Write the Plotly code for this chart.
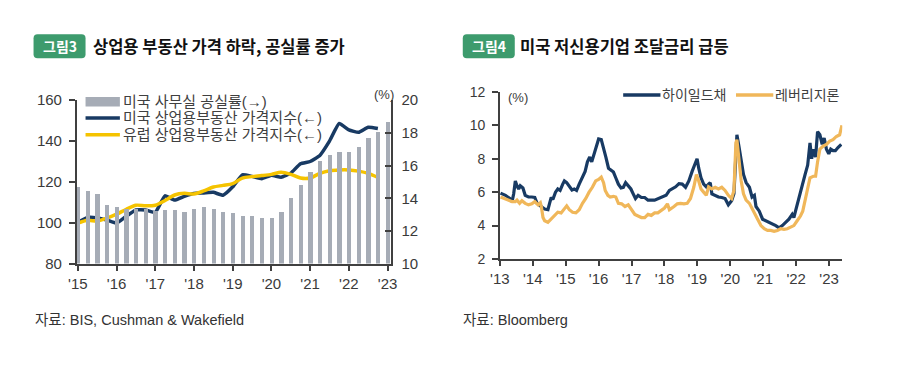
import plotly.graph_objects as go

# ---------------- Left chart data (quarterly) ----------------
q_time = [2015 + 0.25 * i for i in range(33)]
us_vacancy = [14.66, 14.43, 14.23, 13.55, 13.44, 13.3, 13.3, 13.3, 13.2, 13.24, 13.24, 13.15,
              13.34, 13.44, 13.34, 13.17, 13.07, 12.88, 12.88, 12.78, 12.78, 13.17, 13.98, 14.8,
              15.57, 16.27, 16.64, 16.84, 16.84, 17.15, 17.67, 18.06, 18.68]
idx_time = [2015 + 0.25 * i for i in range(32)]
us_cre = [100.2, 102.6, 102.4, 101.3, 99.8, 103.2, 106.3, 106.3, 105.1, 113.2, 111.1, 112.9,
          114.4, 114.6, 114.9, 113.5, 117.6, 123.5, 122.7, 121.6, 123.3, 122.3, 124.3, 128.9,
          130.0, 133.0, 140.0, 148.6, 145.5, 144.3, 146.8, 146.2]
eu_cre = [99.8, 101.2, 100.8, 102.3, 104.2, 106.6, 108.6, 108.3, 108.6, 110.9, 113.6, 114.4,
          114.1, 115.6, 117.5, 118.3, 119.2, 121.9, 122.6, 123.1, 123.7, 124.7, 123.7, 121.9,
          121.9, 124.2, 125.5, 125.9, 125.9, 125.3, 124.2, 122.2]
left_years = list(range(2015, 2024))
left_ticktext = ["'15", "'16", "'17", "'18", "'19", "'20", "'21", "'22", "'23"]

# ---------------- Right chart data ----------------
hy_t = [2013.02, 2013.17, 2013.30, 2013.37, 2013.42, 2013.47, 2013.52, 2013.57, 2013.62, 2013.70,
        2013.77, 2013.87, 2013.97, 2014.06, 2014.13, 2014.21, 2014.29, 2014.36, 2014.46, 2014.51,
        2014.56, 2014.61, 2014.69, 2014.76, 2014.83, 2014.91, 2014.96, 2015.03, 2015.11, 2015.19,
        2015.26, 2015.33, 2015.41, 2015.51, 2015.59, 2015.66, 2015.73, 2015.79, 2015.86, 2015.93,
        2016.00, 2016.08, 2016.15, 2016.22, 2016.30, 2016.38, 2016.45, 2016.52, 2016.60, 2016.68,
        2016.75, 2016.82, 2016.90, 2016.98, 2017.05, 2017.12, 2017.20, 2017.30, 2017.40, 2017.50,
        2017.70, 2017.90, 2018.05, 2018.15, 2018.24, 2018.34, 2018.44, 2018.54, 2018.64, 2018.74,
        2018.84, 2018.94, 2018.99, 2019.04, 2019.11, 2019.19, 2019.27, 2019.34, 2019.39, 2019.44,
        2019.54, 2019.64, 2019.74, 2019.84, 2019.94, 2020.04, 2020.11, 2020.17, 2020.20, 2020.26,
        2020.33, 2020.40, 2020.48, 2020.58, 2020.66, 2020.73, 2020.78, 2020.88, 2020.98, 2021.08,
        2021.18, 2021.28, 2021.38, 2021.48, 2021.58, 2021.68, 2021.78, 2021.88, 2021.93, 2021.98,
        2022.06, 2022.13, 2022.20, 2022.27, 2022.35, 2022.42, 2022.47, 2022.52, 2022.59, 2022.65,
        2022.72, 2022.79, 2022.85, 2022.92, 2022.99, 2023.05, 2023.12, 2023.19, 2023.27, 2023.37]
hy_v = [5.94, 5.81, 5.62, 5.43, 5.9, 6.67, 6.38, 6.19, 6.38, 6.25,
        5.81, 5.71, 5.71, 5.68, 5.33, 5.18, 5.09, 4.99, 4.95, 5.33,
        5.68, 5.56, 6.0, 6.19, 6.1, 6.48, 6.67, 6.57, 6.32, 6.13,
        6.19, 6.1, 6.48, 6.86, 7.24, 7.81, 8.1, 7.81, 8.29, 8.67,
        9.18, 9.14, 8.67, 8.1, 7.43, 7.28, 7.2, 6.86, 6.48, 6.25,
        6.29, 6.57, 6.38, 6.19, 5.9, 5.62, 5.81, 5.68, 5.68, 5.52,
        5.52, 5.71, 5.81, 6.1, 6.19, 6.32, 6.51, 6.48, 6.29, 6.67,
        7.24, 7.81, 8.0, 7.43, 6.86, 6.48, 6.32, 6.48, 6.57, 5.9,
        5.81, 5.71, 5.68, 5.62, 5.24, 5.49, 5.9, 7.81, 9.43, 8.76,
        7.81, 7.05, 6.57, 6.29, 5.71, 5.81, 5.14, 4.86, 4.38, 4.29,
        4.23, 4.1, 4.0, 3.87, 4.0, 4.19, 4.38, 4.67, 4.48, 4.86,
        5.52, 5.9, 6.48, 7.05, 7.62, 8.95, 8.0, 8.57, 8.1, 9.62,
        9.43, 8.86, 9.24, 8.57, 8.29, 8.57, 8.48, 8.48, 8.67, 8.86]

ll_t = [2013.02, 2013.17, 2013.27, 2013.37, 2013.47, 2013.52, 2013.60, 2013.67, 2013.77, 2013.87,
        2013.97, 2014.06, 2014.16, 2014.23, 2014.26, 2014.31, 2014.36, 2014.46, 2014.56, 2014.66,
        2014.76, 2014.86, 2014.96, 2015.03, 2015.11, 2015.21, 2015.31, 2015.41, 2015.51, 2015.61,
        2015.71, 2015.81, 2015.91, 2016.00, 2016.08, 2016.15, 2016.20, 2016.28, 2016.35, 2016.45,
        2016.52, 2016.60, 2016.70, 2016.80, 2016.90, 2017.00, 2017.10, 2017.20, 2017.30, 2017.40,
        2017.50, 2017.60, 2017.70, 2017.80, 2017.90, 2018.00, 2018.09, 2018.15, 2018.29, 2018.39,
        2018.49, 2018.59, 2018.69, 2018.79, 2018.89, 2018.97, 2019.04, 2019.11, 2019.19, 2019.27,
        2019.34, 2019.44, 2019.54, 2019.64, 2019.74, 2019.84, 2019.94, 2020.04, 2020.11, 2020.17,
        2020.20, 2020.26, 2020.33, 2020.40, 2020.48, 2020.58, 2020.66, 2020.73, 2020.83, 2020.93,
        2021.03, 2021.13, 2021.23, 2021.33, 2021.43, 2021.53, 2021.63, 2021.73, 2021.83, 2021.93,
        2022.03, 2022.13, 2022.20, 2022.27, 2022.35, 2022.42, 2022.52, 2022.59, 2022.65, 2022.72,
        2022.82, 2022.92, 2023.02, 2023.12, 2023.22, 2023.32, 2023.39]
ll_v = [5.71, 5.62, 5.52, 5.43, 5.43, 5.52, 5.33, 5.49, 5.33, 5.24,
        5.3, 5.43, 5.24, 5.37, 5.14, 4.48, 4.29, 4.19, 4.38, 4.61,
        4.8, 4.76, 5.05, 5.18, 4.95, 4.8, 4.76, 4.95, 5.33, 5.62,
        6.0, 6.29, 6.67, 6.76, 6.9, 6.57, 6.1, 5.81, 5.71, 5.75,
        5.71, 5.33, 5.3, 5.14, 5.24, 4.95, 4.67, 4.57, 4.48, 4.48,
        4.67, 4.61, 4.76, 4.76, 4.91, 5.05, 5.3, 4.95, 5.14, 5.3,
        5.33, 5.3, 5.33, 5.62, 6.29, 7.05, 6.67, 6.19, 6.0, 5.81,
        6.32, 6.19, 6.29, 6.19, 6.29, 6.1, 5.81, 5.62, 6.1, 8.95,
        9.14, 8.0, 6.67, 5.9, 5.52, 5.33, 5.05, 4.8, 4.38, 4.0,
        3.81, 3.71, 3.71, 3.66, 3.71, 3.81, 3.77, 3.81, 3.9, 4.0,
        4.29, 4.57, 4.86, 5.52, 6.29, 6.86, 6.95, 6.95, 7.81, 8.57,
        8.76, 8.86, 9.05, 9.14, 9.33, 9.43, 10.0]
right_years = list(range(2013, 2024))
right_ticktext = ["'13", "'14", "'15", "'16", "'17", "'18", "'19", "'20", "'21", "'22", "'23"]

# ---------------- Styles ----------------
W, H = 899, 381
FONT = "Liberation Sans, Arial, Noto Sans CJK KR, sans-serif"
KFONT = "Noto Sans CJK KR, Liberation Sans, sans-serif"
TXT = "#3a3a3a"
AX = "#404040"
BAR_C = "#a6acb6"
NAVY = "#183a63"
YELLOW = "#f5c300"
ORANGE = "#f0b75a"
GREEN = "#3d9b6d"


def px(x):
    return x / W


def py(y):
    return 1 - y / H


fig = go.Figure()

fig.add_trace(go.Bar(x=q_time, y=us_vacancy, yaxis="y2", xaxis="x", marker_color=BAR_C,
                     marker_line_width=0, width=0.11, name="미국 사무실 공실률(→)", showlegend=False))
fig.add_trace(go.Scatter(x=idx_time, y=us_cre, xaxis="x", yaxis="y", mode="lines",
                         line=dict(color=NAVY, width=3.5, shape="spline", smoothing=0.4),
                         name="미국 상업용부동산 가격지수(←)", showlegend=False))
fig.add_trace(go.Scatter(x=idx_time, y=eu_cre, xaxis="x", yaxis="y", mode="lines",
                         line=dict(color=YELLOW, width=3.5, shape="spline", smoothing=0.8),
                         name="유럽 상업용부동산 가격지수(←)", showlegend=False))

fig.add_trace(go.Scatter(x=hy_t, y=hy_v, xaxis="x2", yaxis="y3", mode="lines",
                         line=dict(color=NAVY, width=3.2), name="하이일드채", showlegend=False))
fig.add_trace(go.Scatter(x=ll_t, y=ll_v, xaxis="x2", yaxis="y3", mode="lines",
                         line=dict(color=ORANGE, width=3.2), name="레버리지론", showlegend=False))

axis_common = dict(showgrid=False, zeroline=False, showline=True, linecolor=AX, linewidth=1.5,
                   tickcolor=AX, tickwidth=1.5, ticks="outside")

fig.update_layout(
    width=W, height=H, margin=dict(l=0, r=0, t=0, b=0),
    paper_bgcolor="white", plot_bgcolor="white",
    font=dict(family=FONT, color=TXT),
    bargap=0,
    xaxis=dict(domain=[px(68), px(388)], range=[2014.97, 2023.08], anchor="y",
               tickvals=left_years, ticktext=left_ticktext, ticklen=6,
               tickfont=dict(size=15, color=TXT), **axis_common),
    yaxis=dict(domain=[py(266.5), py(95.5)], range=[80, 160], dtick=20, anchor="x",
               ticklen=6, tickfont=dict(size=15, color=TXT), ticklabelstandoff=4, **axis_common),
    yaxis2=dict(overlaying="y", side="right", range=[10, 20], dtick=2, anchor="x",
                showgrid=False, zeroline=False, showline=True, linecolor=AX, linewidth=1.5,
                tickcolor=AX, tickwidth=1.5, ticks="inside", ticklen=6,
                tickfont=dict(size=15, color=TXT), ticklabelstandoff=6),
    xaxis2=dict(domain=[px(499.3), px(848.3)], range=[2013, 2023.4], anchor="y3",
                tickvals=right_years, ticktext=right_ticktext, ticklen=5,
                tickfont=dict(size=15, color=TXT), **axis_common),
    yaxis3=dict(domain=[py(261.7), py(86.7)], range=[2, 12], dtick=2, anchor="x2",
                ticklen=6, tickfont=dict(size=14, color=TXT), ticklabelstandoff=4, **axis_common),
)

shapes = []
annotations = []

# Left legend (manual swatches)
shapes.append(dict(type="rect", xref="paper", yref="paper", x0=px(77), x1=px(112),
                   y0=py(102), y1=py(92), fillcolor=BAR_C, line_width=0, layer="above"))
shapes.append(dict(type="line", xref="paper", yref="paper", x0=px(77), x1=px(112),
                   y0=py(114), y1=py(114), line=dict(color=NAVY, width=3.5), layer="above"))
shapes.append(dict(type="line", xref="paper", yref="paper", x0=px(77), x1=px(112),
                   y0=py(131.5), y1=py(131.5), line=dict(color=YELLOW, width=3.5), layer="above"))
for txt, yy in [("미국 사무실 공실률(→)", 97), ("미국 상업용부동산 가격지수(←)", 114),
                ("유럽 상업용부동산 가격지수(←)", 131.5)]:
    annotations.append(dict(text=txt, x=px(114), y=py(yy), xref="paper", yref="paper",
                            xanchor="left", yanchor="middle", showarrow=False,
                            borderpad=0, font=dict(size=15, color="#404040", family=FONT)))

# Right legend
shapes.append(dict(type="line", xref="paper", yref="paper", x0=px(625), x1=px(663),
                   y0=py(90), y1=py(90), line=dict(color=NAVY, width=3.5), layer="above"))
shapes.append(dict(type="line", xref="paper", yref="paper", x0=px(740), x1=px(778),
                   y0=py(90), y1=py(90), line=dict(color=ORANGE, width=3.5), layer="above"))
for txt, xx in [("하이일드채", 664), ("레버리지론", 779)]:
    annotations.append(dict(text=txt, x=px(xx), y=py(90), xref="paper", yref="paper",
                            xanchor="left", yanchor="middle", showarrow=False, borderpad=0,
                            font=dict(size=14, color="#404040", family=FONT)))

# (%) labels
annotations.append(dict(text="(%)", x=px(381), y=py(89), xref="paper", yref="paper",
                        xanchor="center", yanchor="middle", showarrow=False,
                        font=dict(size=13, color=TXT)))
annotations.append(dict(text="(%)", x=px(518), y=py(93), xref="paper", yref="paper",
                        xanchor="center", yanchor="middle", showarrow=False,
                        font=dict(size=13, color=TXT)))

# Titles with rounded green label boxes
RR = "M -22,-12 L 22,-12 Q 26,-12 26,-8 L 26,8 Q 26,12 22,12 L -22,12 Q -26,12 -26,8 L -26,-8 Q -26,-12 -22,-12 Z"
for label, cx in [("그림3", 50.5), ("그림4", 488)]:
    shapes.append(dict(type="path", xref="paper", yref="paper", xsizemode="pixel",
                       ysizemode="pixel", xanchor=px(cx), yanchor=py(39), path=RR,
                       fillcolor=GREEN, line_width=0, layer="above"))
    annotations.append(dict(text="<b>" + label + "</b>", x=px(cx), y=py(39), xref="paper",
                            yref="paper", xanchor="center", yanchor="middle", showarrow=False,
                            borderpad=0, font=dict(size=14, color="white", family=KFONT)))
annotations.append(dict(text="<b>상업용 부동산 가격 하락, 공실률 증가</b>", x=px(84), y=py(38.5),
                        xref="paper", yref="paper", xanchor="left", yanchor="middle",
                        showarrow=False, borderpad=0,
                        font=dict(size=16.5, color="#111111", family=KFONT)))
annotations.append(dict(text="<b>미국 저신용기업 조달금리 급등</b>", x=px(519), y=py(38.5),
                        xref="paper", yref="paper", xanchor="left", yanchor="middle",
                        showarrow=False, borderpad=0,
                        font=dict(size=16.5, color="#111111", family=KFONT)))

# Sources
annotations.append(dict(text="자료: BIS, Cushman & Wakefield", x=px(24), y=py(326),
                        xref="paper", yref="paper", xanchor="left", yanchor="middle",
                        showarrow=False, borderpad=0,
                        font=dict(size=14.5, color="#333333", family=FONT)))
annotations.append(dict(text="자료: Bloomberg", x=px(461), y=py(326),
                        xref="paper", yref="paper", xanchor="left", yanchor="middle",
                        showarrow=False, borderpad=0,
                        font=dict(size=14.5, color="#333333", family=FONT)))

fig.update_layout(shapes=shapes, annotations=annotations)

POST = (
    "var s=document.createElement('style');"
    "s.innerHTML='html,body{margin:0!important;padding:0!important;overflow:hidden;"
    "width:899px;height:381px;}';"
    "document.head.appendChild(s);"
    "var g=document.getElementById('{plot_id}');"
    "g.style.position='absolute';g.style.left='0px';g.style.top='0px';"
)

fig.write_html("out.html", config={"displayModeBar": False}, post_script=POST)
